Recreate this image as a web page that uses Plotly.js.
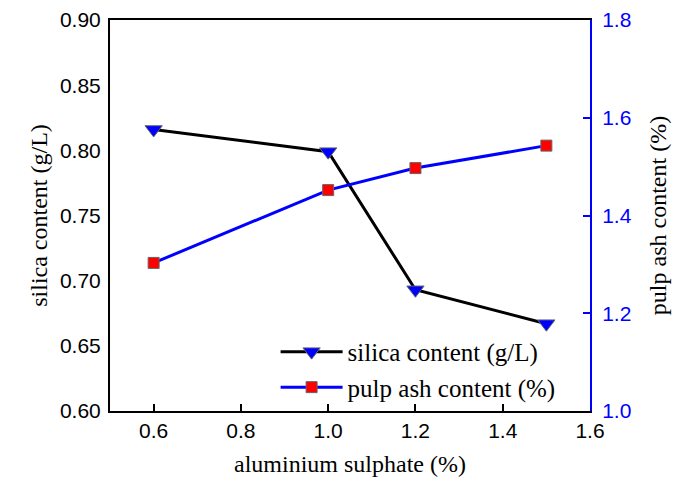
<!DOCTYPE html>
<html>
<head>
<meta charset="utf-8">
<script src="https://cdn.plot.ly/plotly-3.0.1.min.js"></script>
<style>html,body{margin:0;padding:0;background:#fff;}#chart{width:678px;height:484px;}</style>
</head>
<body>
<div id="chart"></div>
<script>
const dosage = [0.6, 1.0, 1.2, 1.5];
const silicaContent = [0.816, 0.799, 0.693, 0.667];
const pulpAsh = [1.303, 1.452, 1.497, 1.543];
const xTicks = [0.6, 0.8, 1.0, 1.2, 1.4, 1.6];
const xTickText = ['0.6', '0.8', '1.0', '1.2', '1.4', '1.6'];
const yTicks = [0.60, 0.65, 0.70, 0.75, 0.80, 0.85, 0.90];
const y2Ticks = [1.0, 1.2, 1.4, 1.6, 1.8];

const traces = [
  {
    x: dosage, y: silicaContent, name: 'silica content (g/L)',
    type: 'scatter', mode: 'lines+markers',
    line: {color: '#000000', width: 3},
    marker: {symbol: 'triangle-down', size: 15, color: '#0000ff', line: {color: '#666666', width: 1}}
  },
  {
    x: dosage, y: pulpAsh, name: 'pulp ash content (%)', yaxis: 'y2',
    type: 'scatter', mode: 'lines+markers',
    line: {color: '#0000ff', width: 3},
    marker: {symbol: 'square', size: 11, color: '#ff0000', line: {color: '#666666', width: 1}}
  }
];

const tickFont = {family: 'Liberation Sans, Arial, sans-serif', size: 21, color: '#000'};
const titleFont = {family: 'Liberation Serif, Times New Roman, serif', size: 24, color: '#000'};

const layout = {
  width: 678, height: 484,
  margin: {l: 110, r: 88, t: 20, b: 73},
  paper_bgcolor: '#fff', plot_bgcolor: '#fff',
  showlegend: true,
  legend: {
    x: 0.345, y: 0.21, xanchor: 'left', yanchor: 'top',
    bgcolor: 'rgba(0,0,0,0)', borderwidth: 0,
    font: {family: 'Liberation Serif, Times New Roman, serif', size: 25, color: '#000'},
    tracegroupgap: 0, itemwidth: 62
  },
  xaxis: {
    range: [0.5, 1.6], tickvals: xTicks, ticktext: xTickText,
    showline: true, linecolor: '#000', linewidth: 2, mirror: true,
    ticks: 'inside', ticklen: 7, tickwidth: 2, tickcolor: '#000',
    showgrid: false, zeroline: false, tickfont: tickFont,
    title: {text: 'aluminium sulphate (%)', font: titleFont, standoff: 14}
  },
  yaxis: {
    range: [0.60, 0.90], tickvals: yTicks, tickformat: '.2f',
    showline: true, linecolor: '#000', linewidth: 2,
    ticks: '', showgrid: false, zeroline: false, tickfont: tickFont,
    ticklabelstandoff: 3,
    title: {text: 'silica content (g/L)', font: titleFont, standoff: 6}
  },
  yaxis2: {
    overlaying: 'y', side: 'right', range: [1.0, 1.8], tickvals: y2Ticks, tickformat: '.1f',
    showline: true, linecolor: '#0000ff', linewidth: 2,
    ticks: 'inside', ticklen: 7, tickwidth: 2, tickcolor: '#0000ff',
    showgrid: false, zeroline: false, ticklabelstandoff: 6,
    tickfont: {family: 'Liberation Sans, Arial, sans-serif', size: 21, color: '#0000ff'},
    title: {text: 'pulp ash content (%)', font: titleFont, standoff: 18}
  }
};

Plotly.newPlot('chart', traces, layout, {displayModeBar: false, staticPlot: true});
</script>
</body>
</html>
